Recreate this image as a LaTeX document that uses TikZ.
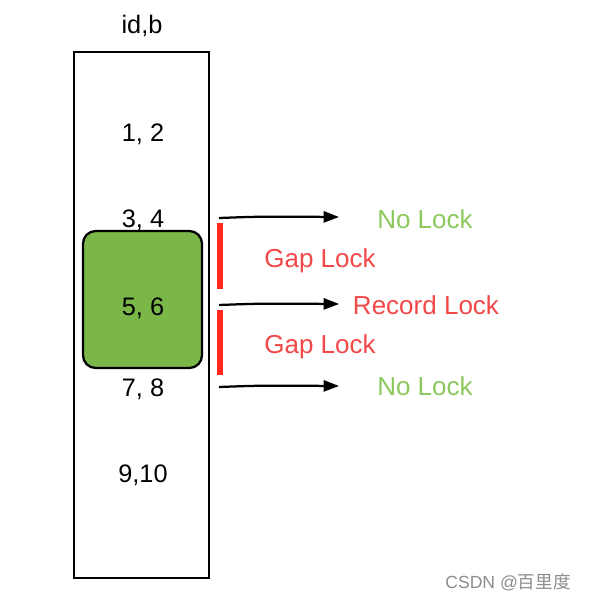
\documentclass[tikz,border=0pt]{standalone}
\usepackage{fontspec}
\setmainfont{Liberation Sans}
\newfontfamily\cjk{Noto Sans CJK SC}
\usetikzlibrary{arrows.meta}

\definecolor{recgreen}{RGB}{122,182,72}
\definecolor{nolockgreen}{RGB}{140,200,92}
\definecolor{gapred}{RGB}{242,72,72}
\definecolor{barred}{RGB}{255,40,30}

\tikzstyle{val} = [font=\fontsize{18}{20}\selectfont, inner sep=0pt]
\tikzstyle{lock} = [font=\fontsize{18.5}{20}\selectfont, inner sep=0pt]
\tikzstyle{lockarrow} = [line width=1.6pt, -{Triangle[length=11pt,width=8pt]}]
\tikzstyle{gapbar} = [barred, line width=4.2pt]

\begin{document}
\begin{tikzpicture}[x=0.025cm, y=-0.025cm]
\useasboundingbox (0,0) rectangle (590,602);
% index column
\draw[line width=2.1pt] (74,52) rectangle (209,578);
\node[val] (head) at (142,26) {id,b};
\draw[line width=1.6pt, fill=recgreen, rounded corners=9pt] (83,231) rectangle (202,368);
\node[val] (r1) at (143,134) {1, 2};
\node[val] (r2) at (143,220) {3, 4};
\node[val] (r3) at (143,308) {5, 6};
\node[val] (r4) at (143,389) {7, 8};
\node[val] (r5) at (143,475) {9,10};
% locks
\node[lock, text=nolockgreen] (noA) at (425,219) {No Lock};
\node[lock, text=gapred] (gapA) at (320,261) {Gap Lock};
\node[lock, text=gapred] (rec) at (426,305) {Record Lock};
\node[lock, text=gapred] (gapB) at (320,347) {Gap Lock};
\node[lock, text=nolockgreen] (noB) at (425,386) {No Lock};
\coordinate (sA) at (219,218);
\coordinate (tA) at (339,217);
\coordinate (sR) at (219,305);
\coordinate (tR) at (339,304);
\coordinate (sB) at (219,387);
\coordinate (tB) at (339,386);
\draw[lockarrow] (sA) .. controls (260,216.5) .. (tA);
\draw[lockarrow] (sR) .. controls (260,303.5) .. (tR);
\draw[lockarrow] (sB) .. controls (260,385.5) .. (tB);
\draw[gapbar] (220,223) -- (220,289);
\draw[gapbar] (220,310) -- (220,375);
% watermark
\node[text=black!45, font=\fontsize{12.5}{14}\selectfont, inner sep=0pt] (mark) at (508,582) {CSDN @{\cjk 百里度}};
\end{tikzpicture}
\end{document}
